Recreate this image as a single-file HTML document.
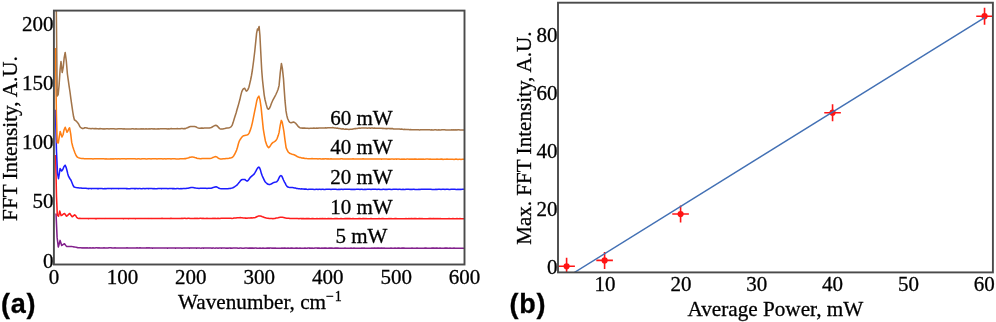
<!DOCTYPE html>
<html><head><meta charset="utf-8"><style>
html,body{margin:0;padding:0;background:#fff;}
svg{display:block;will-change:transform;}
text{font-family:"Liberation Serif",serif;fill:#000;stroke:#000;stroke-width:0.3px;}
.t{font-size:21px;}
.lab{font-family:"Liberation Sans",sans-serif;font-weight:bold;font-size:27px;letter-spacing:0.7px;}
</style></head><body>
<svg width="996" height="322" viewBox="0 0 996 322">
<defs><clipPath id="ca"><rect x="53.9" y="10.6" width="410.6" height="253.9"/></clipPath>
<clipPath id="cb"><rect x="558" y="2.7" width="435" height="269.7"/></clipPath></defs>
<g clip-path="url(#ca)">
<path d="M56.0,213.5 L57.1,237.4 L58.3,247.0 L59.2,243.7 L60.1,240.4 L60.9,242.9 L61.7,245.4 L62.6,245.0 L63.6,244.2 L64.5,243.8 L65.5,245.1 L66.5,246.4 L67.4,246.4 L68.3,246.4 L69.3,246.4 L70.2,246.4 L71.2,246.4 L72.2,246.6 L73.1,246.7 L74.1,246.9 L75.1,247.1 L76.1,247.2 L77.1,247.4 L78.0,247.7 L79.0,247.7 L80.0,247.8 L81.0,247.7 L82.0,247.9 L83.0,247.8 L84.0,247.9 L85.0,247.8 L86.0,247.9 L87.0,247.7 L88.0,247.9 L89.0,247.9 L90.0,247.8 L91.0,247.9 L92.0,247.9 L93.0,247.7 L94.0,247.9 L95.0,247.9 L96.0,247.8 L97.0,247.7 L98.0,248.0 L99.0,247.8 L100.0,247.9 L101.0,248.0 L102.0,247.9 L103.0,248.0 L104.0,247.8 L105.0,248.0 L106.0,247.9 L107.0,248.0 L108.0,248.0 L109.0,247.8 L110.0,247.8 L111.0,247.8 L112.0,248.0 L113.0,247.9 L114.0,247.9 L115.0,247.8 L116.0,247.9 L117.0,247.9 L118.0,247.9 L119.0,247.9 L120.0,247.9 L121.0,248.0 L122.0,248.0 L123.0,248.0 L124.0,248.0 L125.0,248.1 L126.0,248.0 L127.0,247.8 L128.0,248.0 L129.0,248.1 L130.0,248.0 L131.0,248.0 L132.0,248.0 L133.0,247.9 L134.0,248.0 L135.0,248.0 L136.0,247.9 L137.0,247.8 L138.0,248.0 L139.0,248.1 L140.0,247.8 L141.0,248.0 L142.0,247.9 L143.0,247.9 L144.0,247.9 L145.0,248.0 L146.0,248.1 L147.0,247.8 L148.0,248.0 L149.0,247.8 L150.0,248.0 L151.0,247.9 L152.0,248.1 L153.0,248.1 L154.0,248.0 L155.0,248.1 L156.0,247.9 L157.0,247.9 L158.0,248.0 L159.0,247.9 L160.0,247.9 L161.0,248.0 L162.0,248.0 L163.0,247.9 L164.0,247.9 L165.0,248.1 L166.0,248.0 L167.0,248.1 L168.0,248.1 L169.0,248.0 L170.0,248.0 L171.0,248.0 L172.0,248.1 L173.0,248.0 L174.0,248.0 L175.0,248.1 L176.0,248.1 L177.0,248.0 L178.0,248.0 L179.0,248.1 L180.0,248.0 L181.0,248.0 L182.0,248.2 L183.0,248.0 L184.0,248.1 L185.0,247.9 L186.0,248.0 L187.0,248.1 L188.0,247.9 L189.0,248.1 L190.0,248.1 L191.0,247.9 L192.0,248.1 L193.0,248.0 L194.0,248.1 L195.0,248.0 L196.0,248.1 L197.0,248.1 L198.0,247.9 L199.0,247.9 L200.0,248.1 L201.0,248.2 L202.0,248.0 L203.0,248.1 L204.0,248.1 L205.0,248.0 L206.0,248.0 L207.0,248.0 L208.0,248.0 L209.0,248.1 L210.0,248.0 L211.0,248.0 L212.0,248.2 L213.0,247.9 L214.0,248.1 L215.0,248.2 L216.0,248.0 L217.0,248.0 L218.0,248.2 L219.0,248.0 L220.0,248.0 L221.0,248.1 L222.0,248.1 L223.0,248.0 L224.0,248.0 L225.0,248.1 L226.0,248.2 L227.0,248.1 L228.0,248.2 L229.0,248.0 L230.0,248.1 L231.0,248.1 L232.0,248.2 L233.0,248.1 L234.0,248.0 L235.0,248.0 L236.0,248.1 L237.0,248.0 L238.0,248.2 L239.0,248.2 L240.0,248.0 L241.0,248.1 L242.0,248.2 L243.0,248.2 L244.0,248.2 L245.0,248.1 L246.0,248.0 L247.0,248.1 L248.0,248.2 L249.0,248.1 L250.0,248.1 L251.0,248.1 L252.0,248.1 L253.0,248.1 L254.0,248.2 L255.0,248.0 L256.0,248.0 L257.0,248.3 L258.0,248.2 L259.0,248.3 L260.0,248.1 L261.0,248.3 L262.0,248.3 L263.0,248.1 L264.0,248.2 L265.0,248.2 L266.0,248.2 L267.0,248.1 L268.0,248.1 L269.0,248.1 L270.0,248.1 L271.0,248.0 L272.0,248.2 L273.0,248.1 L274.0,248.2 L275.0,248.0 L276.0,248.3 L277.0,248.2 L278.0,248.3 L279.0,248.3 L280.0,248.3 L281.0,248.2 L282.0,248.0 L283.0,248.2 L284.0,248.1 L285.0,248.1 L286.0,248.2 L287.0,248.2 L288.0,248.1 L289.0,248.3 L290.0,248.2 L291.0,248.1 L292.0,248.1 L293.0,248.3 L294.0,248.2 L295.0,248.2 L296.0,248.1 L297.0,248.1 L298.0,248.2 L299.0,248.3 L300.0,248.1 L301.0,248.2 L302.0,248.3 L303.0,248.3 L304.0,248.3 L305.0,248.0 L306.0,248.2 L307.0,248.3 L308.0,248.0 L309.0,248.1 L310.0,248.1 L311.0,248.2 L312.0,248.1 L313.0,248.2 L314.0,248.2 L315.0,248.0 L316.0,248.0 L317.0,248.1 L318.0,248.1 L319.0,248.1 L320.0,248.3 L321.0,248.3 L322.0,248.1 L323.0,248.2 L324.0,248.1 L325.0,248.1 L326.0,248.1 L327.0,248.2 L328.0,248.2 L329.0,248.1 L330.0,248.1 L331.0,248.1 L332.0,248.1 L333.0,248.2 L334.0,248.2 L335.0,248.1 L336.0,248.1 L337.0,248.1 L338.0,248.1 L339.0,248.2 L340.0,248.3 L341.0,248.2 L342.0,248.3 L343.0,248.2 L344.0,248.2 L345.0,248.1 L346.0,248.2 L347.0,248.2 L348.0,248.2 L349.0,248.2 L350.0,248.2 L351.0,248.1 L352.0,248.2 L353.0,248.2 L354.0,248.1 L355.0,248.2 L356.0,248.2 L357.0,248.3 L358.0,248.3 L359.0,248.2 L360.0,248.3 L361.0,248.3 L362.0,248.1 L363.0,248.2 L364.0,248.1 L365.0,248.3 L366.0,248.2 L367.0,248.3 L368.0,248.3 L369.0,248.2 L370.0,248.3 L371.0,248.2 L372.0,248.1 L373.0,248.2 L374.0,248.1 L375.0,248.1 L376.0,248.3 L377.0,248.1 L378.0,248.1 L379.0,248.1 L380.0,248.3 L381.0,248.1 L382.0,248.1 L383.0,248.3 L384.0,248.1 L385.0,248.3 L386.0,248.2 L387.0,248.3 L388.0,248.3 L389.0,248.2 L390.0,248.3 L391.0,248.1 L392.0,248.3 L393.0,248.2 L394.0,248.3 L395.0,248.1 L396.0,248.3 L397.0,248.3 L398.0,248.1 L399.0,248.1 L400.0,248.2 L401.0,248.3 L402.0,248.1 L403.0,248.1 L404.0,248.1 L405.0,248.2 L406.0,248.3 L407.0,248.2 L408.0,248.2 L409.0,248.2 L410.0,248.2 L411.0,248.2 L412.0,248.1 L413.0,248.2 L414.0,248.3 L415.0,248.2 L416.0,248.3 L417.0,248.1 L418.0,248.3 L419.0,248.3 L420.0,248.2 L421.0,248.2 L422.0,248.2 L423.0,248.2 L424.0,248.3 L425.0,248.1 L426.0,248.1 L427.0,248.3 L428.0,248.3 L429.0,248.2 L430.0,248.2 L431.0,248.3 L432.0,248.1 L433.0,248.1 L434.0,248.1 L435.0,248.2 L436.0,248.1 L437.0,248.1 L438.0,248.3 L439.0,248.3 L440.0,248.1 L441.0,248.3 L442.0,248.2 L443.0,248.3 L444.0,248.2 L445.0,248.1 L446.0,248.1 L447.0,248.1 L448.0,248.2 L449.0,248.2 L450.0,248.1 L451.0,248.2 L452.0,248.2 L453.0,248.3 L454.0,248.1 L455.0,248.3 L456.0,248.2 L457.0,248.2 L458.0,248.2 L459.0,248.3 L460.0,248.3 L461.0,248.2 L462.0,248.2 L463.0,248.3 L464.0,248.2" fill="none" stroke="#82208c" stroke-width="1.55" stroke-linejoin="round"/>
<path d="M55.6,155.0 L56.5,196.6 L57.3,215.2 L58.5,216.2 L59.7,211.1 L61.1,215.6 L62.2,215.1 L63.4,214.0 L64.5,213.5 L65.5,214.8 L66.5,216.2 L67.6,215.5 L68.7,214.2 L69.8,213.5 L71.0,215.2 L72.2,216.8 L73.4,215.8 L74.6,214.8 L75.7,215.7 L76.7,217.3 L77.8,218.2 L78.8,218.4 L79.8,218.3 L80.8,218.4 L81.9,218.5 L82.9,218.4 L83.9,218.4 L84.9,218.4 L85.9,218.5 L87.0,218.5 L88.0,218.6 L89.0,218.6 L90.0,218.5 L91.0,218.4 L92.0,218.4 L93.0,218.4 L94.0,218.4 L95.0,218.6 L96.0,218.6 L97.0,218.6 L98.0,218.4 L99.0,218.6 L100.0,218.4 L101.0,218.5 L102.0,218.6 L103.0,218.4 L104.0,218.4 L105.0,218.6 L106.0,218.4 L107.0,218.5 L108.0,218.5 L109.0,218.5 L110.0,218.4 L111.0,218.5 L112.0,218.5 L113.0,218.5 L114.0,218.4 L115.0,218.5 L116.0,218.6 L117.0,218.5 L118.0,218.5 L119.0,218.4 L120.0,218.4 L121.0,218.5 L122.0,218.4 L123.0,218.6 L124.0,218.6 L125.0,218.4 L126.0,218.6 L127.0,218.5 L128.0,218.6 L129.0,218.6 L130.0,218.4 L131.0,218.5 L132.0,218.5 L133.0,218.6 L134.0,218.4 L135.0,218.6 L136.0,218.6 L137.0,218.5 L138.0,218.5 L139.0,218.4 L140.0,218.5 L141.0,218.4 L142.0,218.5 L143.0,218.5 L144.0,218.5 L145.0,218.4 L146.0,218.5 L147.0,218.5 L148.0,218.4 L149.0,218.6 L150.0,218.5 L151.0,218.4 L152.0,218.6 L153.0,218.4 L154.0,218.4 L155.0,218.5 L156.0,218.5 L157.0,218.5 L158.0,218.5 L159.0,218.5 L160.0,218.4 L161.0,218.4 L162.0,218.3 L163.0,218.5 L164.0,218.5 L165.0,218.5 L166.0,218.5 L167.0,218.4 L168.0,218.4 L169.0,218.4 L170.0,218.6 L171.0,218.3 L172.0,218.5 L173.0,218.4 L174.0,218.5 L175.0,218.4 L176.0,218.4 L177.0,218.4 L178.0,218.5 L179.0,218.5 L180.0,218.4 L181.0,218.5 L182.0,218.3 L183.0,218.4 L184.0,218.3 L185.0,218.3 L186.0,218.5 L187.0,218.5 L188.0,218.3 L189.0,218.3 L190.0,218.4 L191.0,218.5 L192.0,218.5 L193.0,218.5 L194.0,218.4 L195.0,218.3 L196.0,218.4 L197.0,218.3 L198.0,218.4 L199.0,218.4 L200.0,218.3 L201.0,218.3 L202.0,218.5 L203.0,218.3 L204.0,218.5 L205.0,218.5 L206.0,218.5 L207.0,218.3 L208.0,218.4 L209.0,218.4 L210.0,218.4 L211.0,218.5 L212.0,218.4 L213.0,218.3 L214.0,218.5 L215.0,218.3 L216.0,218.4 L217.0,218.4 L218.0,218.2 L219.0,218.4 L220.0,218.4 L221.0,218.3 L222.0,218.3 L223.0,218.3 L224.0,218.2 L225.0,218.3 L226.0,218.2 L227.0,218.3 L228.0,218.3 L229.0,218.3 L230.0,218.3 L231.0,218.3 L232.0,218.4 L233.1,218.3 L234.1,218.0 L235.1,218.1 L236.1,218.0 L237.1,217.8 L238.1,217.8 L239.2,217.7 L240.2,217.6 L241.2,217.7 L242.1,217.8 L243.1,217.9 L244.0,218.0 L244.9,218.1 L245.9,218.1 L247.0,218.2 L248.0,218.0 L249.1,218.1 L250.1,218.0 L251.2,217.8 L252.2,218.0 L253.3,217.8 L254.3,217.7 L255.3,217.5 L256.3,217.0 L257.3,216.5 L258.3,216.1 L259.3,215.9 L260.3,216.1 L261.3,216.3 L262.4,216.7 L263.4,217.0 L264.4,217.5 L265.4,217.7 L266.3,218.0 L267.3,218.2 L268.2,218.2 L269.1,218.4 L270.1,218.5 L271.0,218.5 L272.0,218.5 L272.9,218.7 L273.9,218.5 L275.0,218.4 L276.1,218.1 L277.1,217.9 L278.1,217.7 L279.2,217.4 L280.2,217.2 L281.3,217.2 L282.4,217.3 L283.5,217.4 L284.6,217.7 L285.6,218.1 L286.7,218.2 L287.8,218.3 L288.8,218.2 L289.8,218.5 L290.8,218.5 L291.8,218.4 L292.8,218.4 L293.9,218.5 L294.9,218.5 L295.9,218.5 L296.9,218.4 L297.9,218.5 L298.9,218.7 L299.9,218.5 L300.9,218.6 L301.9,218.6 L302.9,218.6 L303.9,218.6 L305.0,218.7 L306.0,218.6 L307.0,218.6 L308.0,218.6 L309.0,218.6 L310.0,218.7 L311.0,218.7 L312.0,218.6 L313.0,218.6 L314.0,218.7 L315.0,218.7 L316.0,218.8 L317.0,218.6 L318.0,218.7 L319.0,218.7 L320.0,218.6 L321.0,218.8 L322.0,218.6 L323.0,218.6 L324.0,218.7 L325.0,218.6 L326.0,218.7 L327.0,218.7 L328.0,218.6 L329.0,218.6 L330.0,218.8 L331.0,218.6 L332.0,218.8 L333.0,218.7 L334.0,218.8 L335.0,218.6 L336.0,218.6 L337.0,218.6 L338.0,218.8 L339.0,218.7 L340.0,218.7 L341.0,218.6 L342.0,218.8 L343.0,218.8 L344.0,218.7 L345.0,218.6 L346.0,218.6 L347.0,218.6 L348.0,218.6 L349.0,218.6 L350.0,218.6 L351.0,218.7 L352.0,218.8 L353.0,218.6 L354.0,218.8 L355.0,218.7 L356.0,218.8 L357.0,218.8 L358.0,218.8 L359.0,218.6 L360.0,218.6 L361.0,218.7 L362.0,218.8 L363.0,218.6 L364.0,218.6 L365.0,218.8 L366.0,218.6 L367.0,218.7 L368.0,218.7 L369.0,218.8 L370.0,218.8 L371.0,218.6 L372.0,218.8 L373.0,218.8 L374.0,218.8 L375.0,218.7 L376.0,218.8 L377.0,218.7 L378.0,218.7 L379.0,218.6 L380.0,218.8 L381.0,218.7 L382.0,218.6 L383.0,218.6 L384.0,218.8 L385.0,218.7 L386.0,218.8 L387.0,218.7 L388.0,218.7 L389.0,218.6 L390.0,218.8 L391.0,218.6 L392.0,218.7 L393.0,218.8 L394.0,218.7 L395.0,218.6 L396.0,218.6 L397.0,218.8 L398.0,218.7 L399.0,218.8 L400.0,218.8 L401.0,218.7 L402.0,218.8 L403.0,218.8 L404.0,218.7 L405.0,218.7 L406.0,218.6 L407.0,218.7 L408.0,218.8 L409.0,218.6 L410.0,218.7 L411.0,218.6 L412.0,218.6 L413.0,218.7 L414.0,218.6 L415.0,218.6 L416.0,218.6 L417.0,218.7 L418.0,218.7 L419.0,218.6 L420.0,218.6 L421.0,218.8 L422.0,218.6 L423.0,218.7 L424.0,218.7 L425.0,218.8 L426.0,218.7 L427.0,218.8 L428.0,218.7 L429.0,218.6 L430.0,218.6 L431.0,218.6 L432.0,218.8 L433.0,218.6 L434.0,218.6 L435.0,218.8 L436.0,218.6 L437.0,218.8 L438.0,218.6 L439.0,218.7 L440.0,218.6 L441.0,218.8 L442.0,218.7 L443.0,218.7 L444.0,218.8 L445.0,218.8 L446.0,218.7 L447.0,218.7 L448.0,218.7 L449.0,218.6 L450.0,218.8 L451.0,218.7 L452.0,218.8 L453.0,218.6 L454.0,218.7 L455.0,218.7 L456.0,218.8 L457.0,218.6 L458.0,218.7 L459.0,218.7 L460.0,218.6 L461.0,218.7 L462.0,218.8 L463.0,218.7 L464.0,218.7" fill="none" stroke="#ff1c1c" stroke-width="1.55" stroke-linejoin="round"/>
<path d="M55.4,109.8 L56.5,151.7 L57.5,173.3 L58.5,178.7 L59.3,173.7 L60.1,168.6 L60.9,169.8 L61.6,171.0 L62.8,169.5 L63.9,166.7 L65.1,165.2 L66.1,167.3 L67.1,171.0 L67.8,173.9 L68.6,176.4 L69.8,178.5 L71.0,180.3 L72.0,182.8 L73.1,185.5 L74.1,187.0 L75.1,187.3 L76.2,187.6 L77.2,187.7 L78.2,187.8 L79.2,187.9 L80.2,187.9 L81.1,188.0 L82.1,188.3 L83.1,188.2 L84.1,188.3 L85.1,188.2 L86.1,188.3 L87.0,188.4 L88.0,188.6 L89.0,188.6 L90.0,188.5 L91.0,188.6 L92.0,188.6 L93.0,188.5 L94.0,188.6 L95.0,188.5 L96.0,188.5 L97.0,188.6 L98.0,188.6 L99.0,188.6 L100.0,188.5 L101.0,188.6 L102.0,188.5 L103.0,188.7 L104.0,188.7 L105.0,188.5 L106.0,188.7 L107.0,188.5 L108.0,188.4 L109.0,188.6 L110.0,188.5 L111.0,188.6 L112.0,188.6 L113.0,188.4 L114.0,188.6 L115.0,188.5 L116.0,188.5 L117.0,188.5 L118.0,188.6 L119.0,188.6 L120.0,188.5 L121.0,188.5 L122.0,188.5 L123.0,188.5 L124.0,188.4 L125.0,188.5 L126.0,188.6 L127.0,188.6 L128.0,188.7 L129.0,188.7 L130.0,188.7 L131.0,188.5 L132.0,188.5 L133.0,188.5 L134.0,188.6 L135.0,188.6 L136.0,188.6 L137.0,188.5 L138.0,188.7 L139.0,188.5 L140.0,188.6 L141.0,188.7 L142.0,188.7 L143.0,188.5 L144.0,188.5 L145.0,188.7 L146.0,188.5 L147.0,188.5 L148.0,188.6 L149.0,188.6 L150.0,188.5 L151.0,188.5 L152.0,188.5 L153.0,188.7 L154.0,188.6 L155.0,188.7 L156.0,188.7 L157.0,188.7 L158.0,188.5 L159.0,188.5 L160.0,188.5 L161.0,188.6 L162.0,188.6 L163.0,188.5 L164.0,188.6 L165.0,188.5 L166.0,188.5 L167.0,188.5 L168.0,188.7 L169.0,188.6 L170.0,188.5 L171.0,188.5 L172.0,188.6 L173.0,188.6 L174.0,188.6 L175.0,188.7 L176.0,188.7 L177.0,188.5 L178.0,188.5 L179.0,188.7 L180.0,188.7 L181.0,188.6 L182.0,188.7 L183.0,188.6 L184.0,188.5 L185.0,188.6 L186.0,188.4 L187.0,188.2 L188.0,188.2 L189.0,188.0 L190.0,187.8 L191.0,187.6 L192.0,187.5 L193.0,187.6 L194.0,187.7 L195.0,187.9 L196.0,188.1 L197.0,188.2 L198.0,188.3 L199.0,188.4 L200.0,188.3 L201.0,188.3 L202.0,188.2 L203.0,188.3 L204.0,188.2 L205.0,188.2 L206.0,188.3 L207.0,188.4 L208.0,188.3 L209.0,188.3 L210.0,188.3 L211.0,188.2 L212.0,187.9 L213.0,187.6 L214.0,187.2 L215.0,186.9 L216.0,186.8 L217.0,187.1 L218.0,187.7 L219.0,188.3 L220.0,188.6 L221.0,188.7 L222.0,188.7 L223.0,188.8 L224.0,188.8 L225.0,188.8 L226.0,188.7 L227.0,188.7 L228.0,188.7 L229.0,188.5 L230.0,188.6 L231.0,188.2 L232.0,188.1 L232.9,187.8 L233.8,187.3 L234.8,186.7 L235.7,186.0 L236.6,185.3 L237.6,184.4 L238.6,183.1 L239.6,181.9 L240.5,180.7 L241.5,179.8 L242.5,179.5 L243.7,179.5 L244.8,179.5 L245.9,180.3 L247.1,181.1 L248.0,180.6 L248.8,179.5 L249.7,178.2 L250.6,177.1 L251.5,176.3 L252.3,175.6 L253.2,174.9 L254.1,174.1 L255.0,172.7 L256.0,170.9 L256.9,169.1 L257.9,167.7 L258.8,167.1 L259.7,168.1 L260.6,170.6 L261.4,173.6 L262.3,176.0 L263.2,177.9 L264.1,179.8 L264.9,181.4 L265.8,182.5 L266.9,183.5 L268.1,184.3 L269.2,184.6 L270.1,184.4 L271.1,184.0 L272.0,183.5 L273.0,182.9 L273.9,182.5 L274.8,182.3 L275.8,182.1 L276.7,181.8 L277.8,180.6 L278.8,178.4 L279.8,176.4 L280.9,175.5 L281.8,176.2 L282.6,177.9 L283.5,180.0 L284.4,181.8 L285.3,183.4 L286.1,185.1 L287.0,186.4 L287.9,187.1 L288.8,187.3 L289.7,187.4 L290.7,187.4 L291.6,187.5 L292.5,187.6 L293.5,187.7 L294.5,187.9 L295.5,188.1 L296.5,188.4 L297.5,188.6 L298.5,188.8 L299.5,188.8 L300.6,188.9 L301.6,188.8 L302.6,189.0 L303.7,189.1 L304.8,189.1 L305.8,189.1 L306.9,189.3 L307.9,189.4 L308.9,189.2 L310.0,189.3 L311.0,189.3 L312.0,189.3 L313.0,189.3 L314.0,189.4 L315.0,189.4 L316.0,189.3 L317.0,189.2 L318.0,189.4 L319.0,189.2 L320.0,189.3 L321.0,189.4 L322.0,189.2 L323.0,189.2 L324.0,189.4 L325.0,189.4 L326.0,189.2 L327.0,189.3 L328.0,189.2 L329.0,189.2 L330.0,189.2 L331.0,189.4 L332.0,189.2 L333.0,189.2 L334.0,189.2 L335.0,189.2 L336.0,189.3 L337.0,189.4 L338.0,189.4 L339.0,189.3 L340.0,189.4 L341.0,189.2 L342.0,189.2 L343.0,189.4 L344.0,189.2 L345.0,189.2 L346.0,189.3 L347.0,189.2 L348.0,189.3 L349.0,189.2 L350.0,189.2 L351.0,189.4 L352.0,189.2 L353.0,189.4 L354.0,189.2 L355.0,189.4 L356.0,189.3 L357.0,189.3 L358.0,189.2 L359.0,189.2 L360.0,189.4 L361.0,189.2 L362.0,189.2 L363.0,189.4 L364.0,189.4 L365.0,189.2 L366.0,189.4 L367.0,189.3 L368.0,189.3 L369.0,189.2 L370.0,189.3 L371.0,189.4 L372.0,189.2 L373.0,189.2 L374.0,189.2 L375.0,189.2 L376.0,189.3 L377.0,189.4 L378.0,189.2 L379.0,189.2 L380.0,189.4 L381.0,189.4 L382.0,189.4 L383.0,189.2 L384.0,189.3 L385.0,189.4 L386.0,189.3 L387.0,189.4 L388.0,189.2 L389.0,189.2 L390.0,189.3 L391.0,189.4 L392.0,189.4 L393.0,189.3 L394.0,189.3 L395.0,189.3 L396.0,189.3 L397.0,189.3 L398.0,189.4 L399.0,189.2 L400.0,189.3 L401.0,189.4 L402.0,189.4 L403.0,189.2 L404.0,189.4 L405.0,189.4 L406.0,189.2 L407.0,189.2 L408.0,189.2 L409.0,189.2 L410.0,189.4 L411.0,189.3 L412.0,189.4 L413.0,189.2 L414.0,189.2 L415.0,189.4 L416.0,189.4 L417.0,189.4 L418.0,189.4 L419.0,189.3 L420.0,189.4 L421.0,189.2 L422.0,189.3 L423.0,189.3 L424.0,189.2 L425.0,189.3 L426.0,189.3 L427.0,189.3 L428.0,189.3 L429.0,189.2 L430.0,189.3 L431.0,189.3 L432.0,189.4 L433.0,189.4 L434.0,189.4 L435.0,189.4 L436.0,189.2 L437.0,189.4 L438.0,189.2 L439.0,189.2 L440.0,189.3 L441.0,189.4 L442.0,189.3 L443.0,189.3 L444.0,189.2 L445.0,189.4 L446.0,189.3 L447.0,189.3 L448.0,189.3 L449.0,189.4 L450.0,189.4 L451.0,189.3 L452.0,189.3 L453.0,189.3 L454.0,189.2 L455.0,189.3 L456.0,189.4 L457.0,189.4 L458.0,189.2 L459.0,189.4 L460.0,189.3 L461.0,189.4 L462.0,189.3 L463.0,189.2 L464.0,189.3" fill="none" stroke="#1c1cff" stroke-width="1.55" stroke-linejoin="round"/>
<path d="M55.5,48.0 L56.4,114.0 L57.2,142.5 L58.3,143.0 L59.2,137.2 L60.2,131.5 L61.1,134.2 L62.0,137.0 L63.1,134.5 L64.1,129.7 L65.2,127.2 L66.1,129.7 L67.0,132.2 L67.9,131.1 L68.7,128.9 L69.6,127.8 L70.7,133.9 L71.7,142.4 L72.8,146.7 L73.9,150.0 L75.0,153.0 L76.1,155.5 L77.2,157.0 L78.3,157.6 L79.3,158.1 L80.4,158.3 L81.4,158.4 L82.3,158.6 L83.3,158.5 L84.2,158.7 L85.2,158.7 L86.2,158.7 L87.1,158.7 L88.1,158.8 L89.0,158.8 L90.0,158.8 L91.0,158.8 L92.0,158.8 L93.0,158.9 L94.0,158.8 L95.0,158.7 L96.0,158.7 L97.0,158.8 L98.0,158.8 L99.0,158.7 L100.0,158.7 L101.0,158.7 L102.0,158.7 L103.0,158.7 L104.0,158.8 L105.0,158.9 L106.0,158.8 L107.0,158.9 L108.0,158.9 L109.0,158.9 L110.0,158.9 L111.0,158.8 L112.0,158.9 L113.0,158.7 L114.0,158.9 L115.0,158.8 L116.0,158.8 L117.0,158.9 L118.0,158.7 L119.0,158.7 L120.0,158.9 L121.0,158.8 L122.0,158.7 L123.0,158.7 L124.0,158.8 L125.0,158.7 L126.0,158.9 L127.0,158.7 L128.0,158.7 L129.0,158.8 L130.0,158.8 L131.0,158.8 L132.0,158.8 L133.0,158.8 L134.0,158.8 L135.0,158.7 L136.0,158.9 L137.0,158.9 L138.0,158.7 L139.0,158.8 L140.0,158.9 L141.0,158.9 L142.0,158.7 L143.0,158.7 L144.0,158.8 L145.0,158.8 L146.0,158.9 L147.0,158.9 L148.0,158.8 L149.0,158.8 L150.0,158.8 L151.0,158.9 L152.0,158.7 L153.0,158.8 L154.0,158.7 L155.0,158.8 L156.0,158.7 L157.0,158.9 L158.0,158.8 L159.0,158.8 L160.0,158.7 L161.0,158.7 L162.0,158.8 L163.0,158.9 L164.0,158.8 L165.0,158.7 L166.0,158.9 L167.0,158.8 L168.0,158.8 L169.0,158.7 L170.0,158.7 L171.0,158.9 L172.0,158.7 L173.0,158.8 L174.0,158.8 L175.0,158.8 L176.0,158.9 L177.0,158.9 L178.0,158.9 L179.0,158.9 L180.0,158.7 L181.0,158.7 L182.0,158.8 L183.0,158.7 L184.0,158.8 L185.0,158.6 L185.9,158.6 L186.9,158.2 L187.8,158.0 L188.8,157.7 L189.8,157.2 L190.7,157.2 L191.7,157.0 L192.7,157.1 L193.8,157.2 L194.8,157.5 L195.9,157.8 L196.9,158.3 L198.0,158.5 L199.0,158.6 L200.0,158.7 L201.0,158.7 L202.0,158.5 L203.0,158.5 L204.0,158.5 L205.0,158.5 L206.0,158.5 L207.0,158.4 L208.0,158.5 L209.0,158.4 L210.0,158.4 L211.0,158.2 L212.0,157.9 L212.9,157.5 L213.9,157.1 L214.9,156.7 L215.9,156.6 L216.9,157.0 L217.9,157.8 L219.0,158.5 L220.0,158.9 L221.0,158.9 L222.0,158.9 L223.0,158.8 L224.0,158.8 L225.0,158.7 L226.0,158.5 L227.0,158.5 L228.0,158.4 L229.0,158.3 L230.0,158.0 L231.0,157.9 L232.0,157.5 L232.9,156.9 L233.8,155.7 L234.8,154.0 L235.7,152.1 L236.6,150.1 L237.5,147.2 L238.4,143.7 L239.3,141.1 L240.4,139.2 L241.5,137.6 L242.6,136.4 L243.7,135.7 L244.8,135.4 L245.8,135.2 L246.9,135.0 L248.0,134.6 L249.1,133.1 L250.2,130.4 L251.3,127.0 L252.4,122.6 L253.5,117.1 L254.6,111.7 L255.7,106.4 L256.7,101.1 L257.8,97.6 L258.9,96.1 L260.0,99.9 L261.1,107.4 L262.2,118.3 L263.3,129.1 L264.4,135.6 L265.4,140.9 L266.5,144.3 L267.6,146.6 L268.7,147.6 L269.8,146.7 L270.9,144.9 L272.0,143.3 L273.1,142.4 L274.1,141.8 L275.2,141.1 L276.3,140.0 L277.2,138.3 L278.2,135.6 L279.1,132.4 L280.2,125.4 L281.3,120.4 L282.2,122.2 L283.0,126.4 L283.9,131.3 L285.0,140.1 L286.1,147.6 L287.2,150.2 L288.2,152.0 L289.3,153.0 L290.2,153.5 L291.2,153.9 L292.1,154.3 L293.1,154.5 L294.1,154.8 L295.0,155.2 L296.1,155.8 L297.2,156.5 L298.4,157.1 L299.5,157.5 L300.6,157.6 L301.6,157.9 L302.6,158.1 L303.7,158.1 L304.8,158.4 L305.8,158.4 L306.9,158.6 L307.9,158.7 L308.9,158.7 L310.0,158.7 L311.0,158.7 L312.0,158.6 L313.0,158.8 L314.0,158.8 L315.0,158.7 L316.0,158.8 L317.0,158.7 L318.0,158.9 L319.0,158.8 L320.0,158.7 L321.0,158.9 L322.0,158.9 L323.0,158.8 L324.0,159.0 L325.0,158.8 L326.0,158.7 L327.0,158.9 L328.0,158.8 L329.0,158.9 L330.0,158.9 L331.0,158.7 L332.0,158.9 L333.0,159.0 L334.0,158.9 L335.0,158.9 L336.0,159.0 L337.0,158.9 L338.0,158.9 L339.0,158.9 L340.0,159.0 L341.0,158.8 L342.0,158.8 L343.0,159.0 L344.0,158.9 L345.0,158.9 L346.0,159.0 L347.0,159.0 L348.0,158.9 L349.0,159.1 L350.0,159.0 L351.0,159.0 L352.0,158.9 L353.0,158.8 L354.0,159.0 L355.0,159.0 L356.0,158.9 L357.0,158.9 L358.0,159.0 L359.0,158.9 L360.0,159.0 L361.0,159.0 L362.0,158.9 L363.0,158.8 L364.0,159.0 L365.0,158.9 L366.0,159.0 L367.0,158.9 L368.0,158.9 L369.0,158.9 L370.0,158.9 L371.0,159.0 L372.0,158.9 L373.0,158.9 L374.0,159.0 L375.0,158.9 L376.0,159.0 L377.0,158.9 L378.0,158.9 L379.0,159.0 L380.0,159.0 L381.0,159.1 L382.0,159.1 L383.0,159.0 L384.0,159.0 L385.0,158.9 L386.0,159.0 L387.0,159.0 L388.0,159.2 L389.0,158.9 L390.0,159.2 L391.0,159.0 L392.0,159.0 L393.0,159.0 L394.0,159.2 L395.0,159.0 L396.0,159.1 L397.0,159.1 L398.0,159.0 L399.0,159.0 L400.0,159.2 L401.0,159.2 L402.0,159.1 L403.0,159.2 L404.0,159.0 L405.0,159.2 L406.0,159.2 L407.0,159.0 L408.0,159.1 L409.0,159.2 L410.0,159.1 L411.0,159.2 L412.0,159.0 L413.0,159.2 L414.0,159.1 L415.0,159.1 L416.0,159.1 L417.0,159.2 L418.0,159.2 L419.0,159.1 L420.0,159.2 L421.0,159.1 L422.0,159.2 L423.0,159.1 L424.0,159.2 L425.0,159.2 L426.0,159.1 L427.0,159.0 L428.0,159.1 L429.0,159.2 L430.0,159.1 L431.0,159.3 L432.0,159.2 L433.0,159.3 L434.0,159.3 L435.0,159.3 L436.0,159.2 L437.0,159.1 L438.0,159.2 L439.0,159.3 L440.0,159.3 L441.0,159.1 L442.0,159.1 L443.0,159.4 L444.0,159.3 L445.0,159.2 L446.0,159.3 L447.0,159.1 L448.0,159.3 L449.0,159.3 L450.0,159.3 L451.0,159.2 L452.0,159.2 L453.0,159.3 L454.0,159.4 L455.0,159.2 L456.0,159.1 L457.0,159.2 L458.0,159.4 L459.0,159.3 L460.0,159.3 L461.0,159.4 L462.0,159.3 L463.0,159.2 L464.0,159.3" fill="none" stroke="#ff7f14" stroke-width="1.55" stroke-linejoin="round"/>
<path d="M55.8,-40.0 L57.2,96.0 L58.2,94.5 L59.1,85.0 L60.1,69.6 L61.0,61.5 L62.2,72.5 L63.2,67.3 L64.2,57.7 L65.2,52.5 L66.3,61.0 L67.4,74.0 L68.3,80.4 L69.1,86.2 L70.0,92.0 L70.9,98.9 L71.9,105.9 L72.8,112.0 L73.6,116.8 L74.4,119.8 L75.5,120.5 L76.5,121.4 L77.6,122.6 L78.6,124.0 L80.0,126.8 L80.9,127.7 L81.9,128.3 L82.8,128.6 L83.8,128.2 L84.7,127.7 L85.8,127.8 L86.8,128.0 L87.9,128.3 L88.9,128.5 L90.0,128.6 L91.0,128.7 L92.0,128.5 L93.0,128.6 L94.0,128.7 L95.0,128.6 L96.0,128.6 L97.0,128.7 L98.0,128.7 L99.0,128.9 L100.0,128.6 L101.0,128.8 L102.0,128.7 L103.0,128.9 L104.0,128.8 L105.0,128.9 L106.0,128.8 L107.0,128.7 L108.0,128.8 L109.0,128.9 L110.0,128.8 L111.0,128.8 L112.0,128.8 L113.0,128.7 L114.0,128.8 L115.0,128.9 L116.0,128.9 L117.0,128.9 L118.0,128.8 L119.0,128.8 L120.0,128.8 L121.0,128.8 L122.0,128.8 L123.0,128.9 L124.0,128.8 L125.0,129.0 L126.0,128.9 L127.0,128.9 L128.0,129.0 L129.0,128.9 L130.0,128.9 L131.0,128.9 L132.0,128.8 L133.0,128.8 L134.0,129.0 L135.0,128.9 L136.0,128.8 L137.0,129.0 L138.0,128.9 L139.1,128.9 L140.1,128.9 L141.1,128.8 L142.1,129.0 L143.1,128.8 L144.1,128.9 L145.1,129.0 L146.1,128.8 L147.1,128.9 L148.1,128.9 L149.1,128.8 L150.1,129.0 L151.1,128.8 L152.1,128.7 L153.1,128.9 L154.1,128.7 L155.1,128.9 L156.1,129.0 L157.2,129.0 L158.2,128.7 L159.2,128.9 L160.2,128.8 L161.2,128.8 L162.2,128.8 L163.2,128.8 L164.2,128.7 L165.2,128.8 L166.2,128.7 L167.2,128.9 L168.2,128.7 L169.2,128.9 L170.2,128.7 L171.2,128.6 L172.2,128.8 L173.2,128.7 L174.2,128.8 L175.2,128.7 L176.3,128.7 L177.3,128.6 L178.3,128.7 L179.3,128.7 L180.3,128.8 L181.3,128.5 L182.3,128.5 L183.3,128.7 L184.3,128.6 L185.4,128.6 L186.4,128.1 L187.5,127.8 L188.5,127.3 L189.6,126.8 L190.6,126.5 L191.7,126.4 L192.6,126.4 L193.6,126.5 L194.6,126.6 L195.5,126.8 L196.4,127.1 L197.3,127.6 L198.3,128.0 L199.2,128.2 L200.2,128.2 L201.2,128.1 L202.3,128.1 L203.3,128.2 L204.3,128.0 L205.3,128.0 L206.3,127.9 L207.3,127.9 L208.4,127.9 L209.4,127.9 L210.4,127.7 L211.3,127.5 L212.2,127.0 L213.2,126.4 L214.1,125.9 L215.0,125.5 L215.9,125.3 L216.8,125.7 L217.8,126.6 L218.7,127.7 L219.7,128.6 L220.6,129.0 L221.7,129.1 L222.7,128.9 L223.8,128.7 L224.8,128.6 L225.8,128.3 L226.9,128.1 L227.9,128.0 L229.0,127.7 L230.0,127.4 L231.0,126.9 L232.1,125.4 L233.1,122.6 L234.1,119.2 L235.2,115.8 L236.1,113.0 L236.9,110.0 L237.8,107.0 L238.7,103.9 L239.8,99.8 L240.8,95.4 L241.8,91.6 L242.9,89.4 L243.8,88.6 L244.6,88.2 L245.4,89.6 L246.3,91.1 L247.2,90.6 L248.0,89.4 L248.9,87.2 L249.7,83.9 L250.6,80.0 L251.5,75.5 L252.4,70.0 L253.6,61.0 L254.8,51.0 L255.7,42.1 L256.6,33.1 L257.5,29.0 L258.2,30.0 L259.1,26.5 L259.9,35.3 L260.7,51.0 L261.7,70.0 L262.5,80.0 L263.4,88.2 L264.2,95.1 L265.1,100.0 L266.2,104.4 L267.2,107.9 L268.3,109.3 L269.4,108.4 L270.5,106.1 L271.5,103.2 L272.6,100.7 L273.7,98.6 L274.8,96.6 L275.9,94.5 L277.0,92.0 L278.1,89.3 L279.1,85.4 L280.2,73.1 L281.4,63.5 L282.4,68.6 L283.5,78.9 L284.2,89.4 L285.0,100.7 L286.0,110.9 L286.8,115.4 L287.6,118.5 L289.0,121.5 L289.9,122.4 L290.9,122.8 L292.1,122.4 L293.4,122.0 L294.6,122.5 L295.8,123.4 L296.9,124.7 L297.9,126.1 L298.8,127.0 L299.8,127.7 L300.7,128.0 L301.7,128.1 L302.8,128.1 L303.8,128.1 L304.8,128.1 L305.9,128.2 L306.9,128.3 L307.9,128.2 L309.0,128.4 L310.0,128.3 L311.0,128.3 L312.0,128.2 L312.9,128.3 L313.9,128.1 L314.9,128.3 L315.9,128.3 L316.9,128.1 L317.9,128.2 L318.8,128.0 L319.8,128.0 L320.8,127.9 L321.8,127.9 L322.8,127.9 L323.7,127.9 L324.7,127.9 L325.7,127.7 L326.7,127.9 L327.7,127.7 L328.7,127.7 L329.6,127.7 L330.6,127.7 L331.6,127.7 L332.6,127.6 L333.6,127.7 L334.7,127.9 L335.7,128.0 L336.7,128.2 L337.7,128.1 L338.7,128.5 L339.8,128.6 L340.8,128.7 L341.8,128.9 L342.8,128.8 L343.8,129.1 L344.8,129.3 L345.9,129.1 L346.9,129.3 L347.9,129.3 L348.9,129.4 L350.0,129.2 L351.0,129.2 L352.0,129.2 L353.0,128.9 L354.1,128.7 L355.1,128.6 L356.1,128.6 L357.2,128.4 L358.2,128.2 L359.2,128.1 L360.2,128.2 L361.3,128.0 L362.3,128.0 L363.3,127.9 L364.3,128.1 L365.3,128.0 L366.3,128.0 L367.3,128.2 L368.3,128.0 L369.4,127.9 L370.4,128.2 L371.4,128.0 L372.4,128.0 L373.4,128.3 L374.4,128.1 L375.4,128.3 L376.4,128.2 L377.4,128.2 L378.4,128.2 L379.4,128.3 L380.4,128.3 L381.4,128.3 L382.4,128.4 L383.5,128.4 L384.5,128.5 L385.5,128.6 L386.5,128.6 L387.5,128.6 L388.5,128.4 L389.5,128.6 L390.5,128.6 L391.5,128.6 L392.5,128.6 L393.5,128.9 L394.5,128.9 L395.5,129.0 L396.5,128.9 L397.5,128.9 L398.5,129.0 L399.5,129.0 L400.5,129.3 L401.5,129.1 L402.5,129.2 L403.6,129.4 L404.6,129.3 L405.6,129.5 L406.6,129.4 L407.6,129.6 L408.6,129.5 L409.6,129.7 L410.6,129.6 L411.6,129.7 L412.6,129.8 L413.6,129.8 L414.6,129.7 L415.6,129.7 L416.6,129.8 L417.6,129.8 L418.6,129.7 L419.6,129.9 L420.6,129.8 L421.6,129.7 L422.7,129.8 L423.7,129.7 L424.7,129.8 L425.7,129.8 L426.7,129.8 L427.7,129.8 L428.7,129.8 L429.7,129.8 L430.7,129.9 L431.7,129.8 L432.7,129.9 L433.7,129.9 L434.8,129.8 L435.8,129.8 L436.8,130.0 L437.8,129.9 L438.8,129.8 L439.8,129.9 L440.8,130.0 L441.8,129.8 L442.8,129.8 L443.8,129.8 L444.8,129.7 L445.8,129.9 L446.9,129.9 L447.9,129.9 L448.9,129.9 L449.9,129.9 L450.9,130.0 L451.9,129.8 L452.9,130.0 L453.9,129.8 L454.9,130.0 L455.9,129.8 L456.9,130.0 L457.9,129.8 L459.0,129.8 L460.0,129.9 L461.0,130.0 L462.0,130.0 L463.0,130.0 L464.0,129.9" fill="none" stroke="#a27449" stroke-width="1.55" stroke-linejoin="round"/>
</g>
<rect x="53.9" y="10.6" width="410.6" height="253.9" fill="none" stroke="#4a4a4a" stroke-width="1.9"/>
<g class="t" text-anchor="end">
<text x="53.6" y="30.5">200</text>
<text x="53.6" y="89.8">150</text>
<text x="53.6" y="149.1">100</text>
<text x="53.6" y="208.4">50</text>
<text x="53.6" y="267.5">0</text>
</g>
<g class="t" text-anchor="middle">
<text x="53.9" y="284.3">0</text>
<text x="122.4" y="284.3">100</text>
<text x="190.8" y="284.3">200</text>
<text x="259.3" y="284.3">300</text>
<text x="327.7" y="284.3">400</text>
<text x="396.2" y="284.3">500</text>
<text x="464.6" y="284.3">600</text>
<text x="361.4" y="125">60 mW</text>
<text x="361.4" y="154">40 mW</text>
<text x="361.4" y="184">20 mW</text>
<text x="361.4" y="214">10 mW</text>
<text x="361.4" y="243">5 mW</text>
<text x="259.9" y="308.6" font-size="21.2">Wavenumber, cm<tspan dy="-8" font-size="14">−</tspan><tspan dx="0.8" font-size="14">1</tspan></text>
<text font-size="21.2" transform="translate(17.2,138.5) rotate(-90)">FFT Intensity, A.U.</text>
<text font-size="21.1" transform="translate(530.8,138.2) rotate(-90)">Max. FFT Intensity, A.U.</text>
</g>
<text class="lab" x="1" y="312.5">(a)</text>
<text class="lab" x="509.5" y="312.5">(b)</text>
<g clip-path="url(#cb)">
<g stroke="#ff1414" stroke-width="1.6" fill="#ff1414">
<line x1="558.30" y1="266.30" x2="574.89" y2="266.30"/><line x1="566.60" y1="257.80" x2="566.60" y2="274.80"/><circle cx="566.60" cy="266.30" r="3.1" stroke="none"/>
<line x1="596.29" y1="260.40" x2="612.89" y2="260.40"/><line x1="604.59" y1="251.90" x2="604.59" y2="268.90"/><circle cx="604.59" cy="260.40" r="3.1" stroke="none"/>
<line x1="672.28" y1="214.00" x2="688.88" y2="214.00"/><line x1="680.58" y1="205.50" x2="680.58" y2="222.50"/><circle cx="680.58" cy="214.00" r="3.1" stroke="none"/>
<line x1="824.26" y1="112.70" x2="840.86" y2="112.70"/><line x1="832.56" y1="104.20" x2="832.56" y2="121.20"/><circle cx="832.56" cy="112.70" r="3.1" stroke="none"/>
<line x1="976.24" y1="16.20" x2="992.84" y2="16.20"/><line x1="984.54" y1="7.70" x2="984.54" y2="24.70"/><circle cx="984.54" cy="16.20" r="3.1" stroke="none"/>
</g>
<line x1="557.63" y1="271.99" x2="984.54" y2="15.99" stroke="none"/>
</g>
<g class="t" text-anchor="end">
<text x="557.5" y="41.8">80</text>
<text x="557.5" y="100">60</text>
<text x="557.5" y="158.2">40</text>
<text x="557.5" y="216.2">20</text>
<text x="557.5" y="274.4">0</text>
</g>
<g class="t" text-anchor="middle">
<text x="605" y="291.4">10</text>
<text x="680.9" y="291.4">20</text>
<text x="756.7" y="291.4">30</text>
<text x="832.6" y="291.4">40</text>
<text x="908.4" y="291.4">50</text>
<text x="984.3" y="291.4">60</text>
<text x="775.4" y="315.5" font-size="21.2">Average Power, mW</text>
</g>
<g clip-path="url(#cb)"><line x1="570" y1="275.22" x2="984.6" y2="17.55" stroke="#4270b4" stroke-width="1.4"/></g>
<rect x="558" y="2.7" width="434.9" height="269.7" fill="none" stroke="#4a4a4a" stroke-width="1.9"/>
</svg>
</body></html>
